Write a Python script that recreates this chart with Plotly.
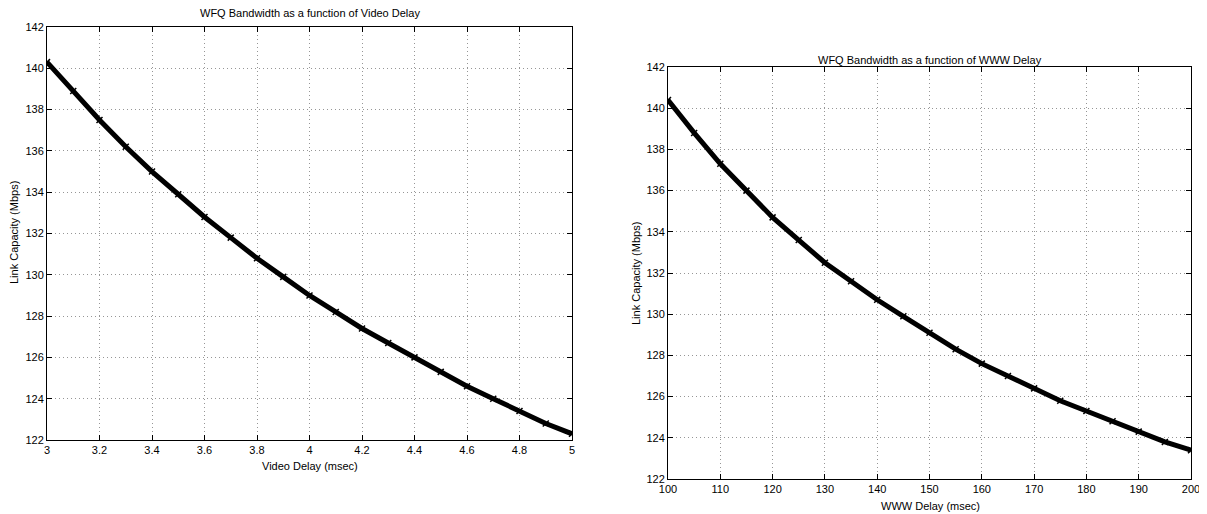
import plotly.graph_objects as go

# Page body has an 8px margin; the figure is sized to fill the rest of the window.
OFF = 8
W, H = 1207 - OFF, 514 - OFF

# Left panel: Video delay (msec) vs link capacity (Mbps)
video_delay = [3.0, 3.1, 3.2, 3.3, 3.4, 3.5, 3.6, 3.7, 3.8, 3.9, 4.0,
               4.1, 4.2, 4.3, 4.4, 4.5, 4.6, 4.7, 4.8, 4.9, 5.0]
video_capacity = [140.3, 138.9, 137.5, 136.2, 135.0, 133.9, 132.8, 131.8, 130.8, 129.9, 129.0,
                  128.2, 127.4, 126.7, 126.0, 125.3, 124.6, 124.0, 123.4, 122.8, 122.3]

# Right panel: WWW delay (msec) vs link capacity (Mbps)
www_delay = [100, 105, 110, 115, 120, 125, 130, 135, 140, 145, 150,
             155, 160, 165, 170, 175, 180, 185, 190, 195, 200]
www_capacity = [140.4, 138.8, 137.3, 136.0, 134.7, 133.6, 132.5, 131.6, 130.7, 129.9, 129.1,
                128.3, 127.6, 127.0, 126.4, 125.8, 125.3, 124.8, 124.3, 123.8, 123.4]

left_xticks = [3, 3.2, 3.4, 3.6, 3.8, 4, 4.2, 4.4, 4.6, 4.8, 5]
left_xticklabels = ["3", "3.2", "3.4", "3.6", "3.8", "4", "4.2", "4.4", "4.6", "4.8", "5"]
right_xticks = [100, 110, 120, 130, 140, 150, 160, 170, 180, 190, 200]
yticks = [122, 124, 126, 128, 130, 132, 134, 136, 138, 140, 142]

FONT = "Liberation Sans, Arial, Helvetica, sans-serif"

def px_x(p):
    return (p - OFF) / W

def px_y(p):
    return 1 - (p - OFF) / H

fig = go.Figure()

trace_style = dict(
    mode="lines+markers",
    line=dict(color="black", width=5),
    marker=dict(symbol="x-thin", size=6, color="black", line=dict(color="black", width=1.5)),
    showlegend=False,
    hoverinfo="x+y",
)

fig.add_trace(go.Scatter(x=video_delay, y=video_capacity, xaxis="x", yaxis="y", **trace_style))
fig.add_trace(go.Scatter(x=www_delay, y=www_capacity, xaxis="x2", yaxis="y2", **trace_style))

axis_common = dict(
    showline=True, linecolor="black", linewidth=1, mirror="ticks",
    ticks="inside", ticklen=5, tickcolor="black", tickwidth=1,
    showgrid=True, gridcolor="rgb(150,150,150)", gridwidth=1, griddash="1px,3px",
    zeroline=False, automargin=False,
    tickfont=dict(family=FONT, size=11, color="black"),
)

fig.update_layout(
    width=W, height=H,
    margin=dict(l=0, r=0, t=0, b=0, autoexpand=False),
    paper_bgcolor="white", plot_bgcolor="white",
    xaxis=dict(domain=[px_x(47), px_x(572)], range=[3, 5], tickvals=left_xticks,
               ticktext=left_xticklabels, anchor="y", **axis_common),
    yaxis=dict(domain=[px_y(440), px_y(27)], range=[122, 142], tickvals=yticks,
               anchor="x", **axis_common),
    xaxis2=dict(domain=[px_x(668), px_x(1191)], range=[100, 200], tickvals=right_xticks,
                anchor="y2", **axis_common),
    yaxis2=dict(domain=[px_y(479), px_y(67)], range=[122, 142], tickvals=yticks,
                anchor="x2", **axis_common),
)

def ann(text, x, y, angle=0):
    fig.add_annotation(text=text, x=px_x(x), y=px_y(y), xref="paper", yref="paper",
                       showarrow=False, textangle=angle, xanchor="center", yanchor="middle",
                       font=dict(family=FONT, size=11, color="black"))

ann("WFQ Bandwidth as a function of Video Delay", 310, 13)
ann("Video Delay (msec)", 310, 466)
ann("Link Capacity (Mbps)", 14, 233, -90)
ann("WFQ Bandwidth as a function of WWW Delay", 930, 60)
ann("WWW Delay (msec)", 930, 506)
ann("Link Capacity (Mbps)", 636, 273, -90)

fig.write_html("out.html")
